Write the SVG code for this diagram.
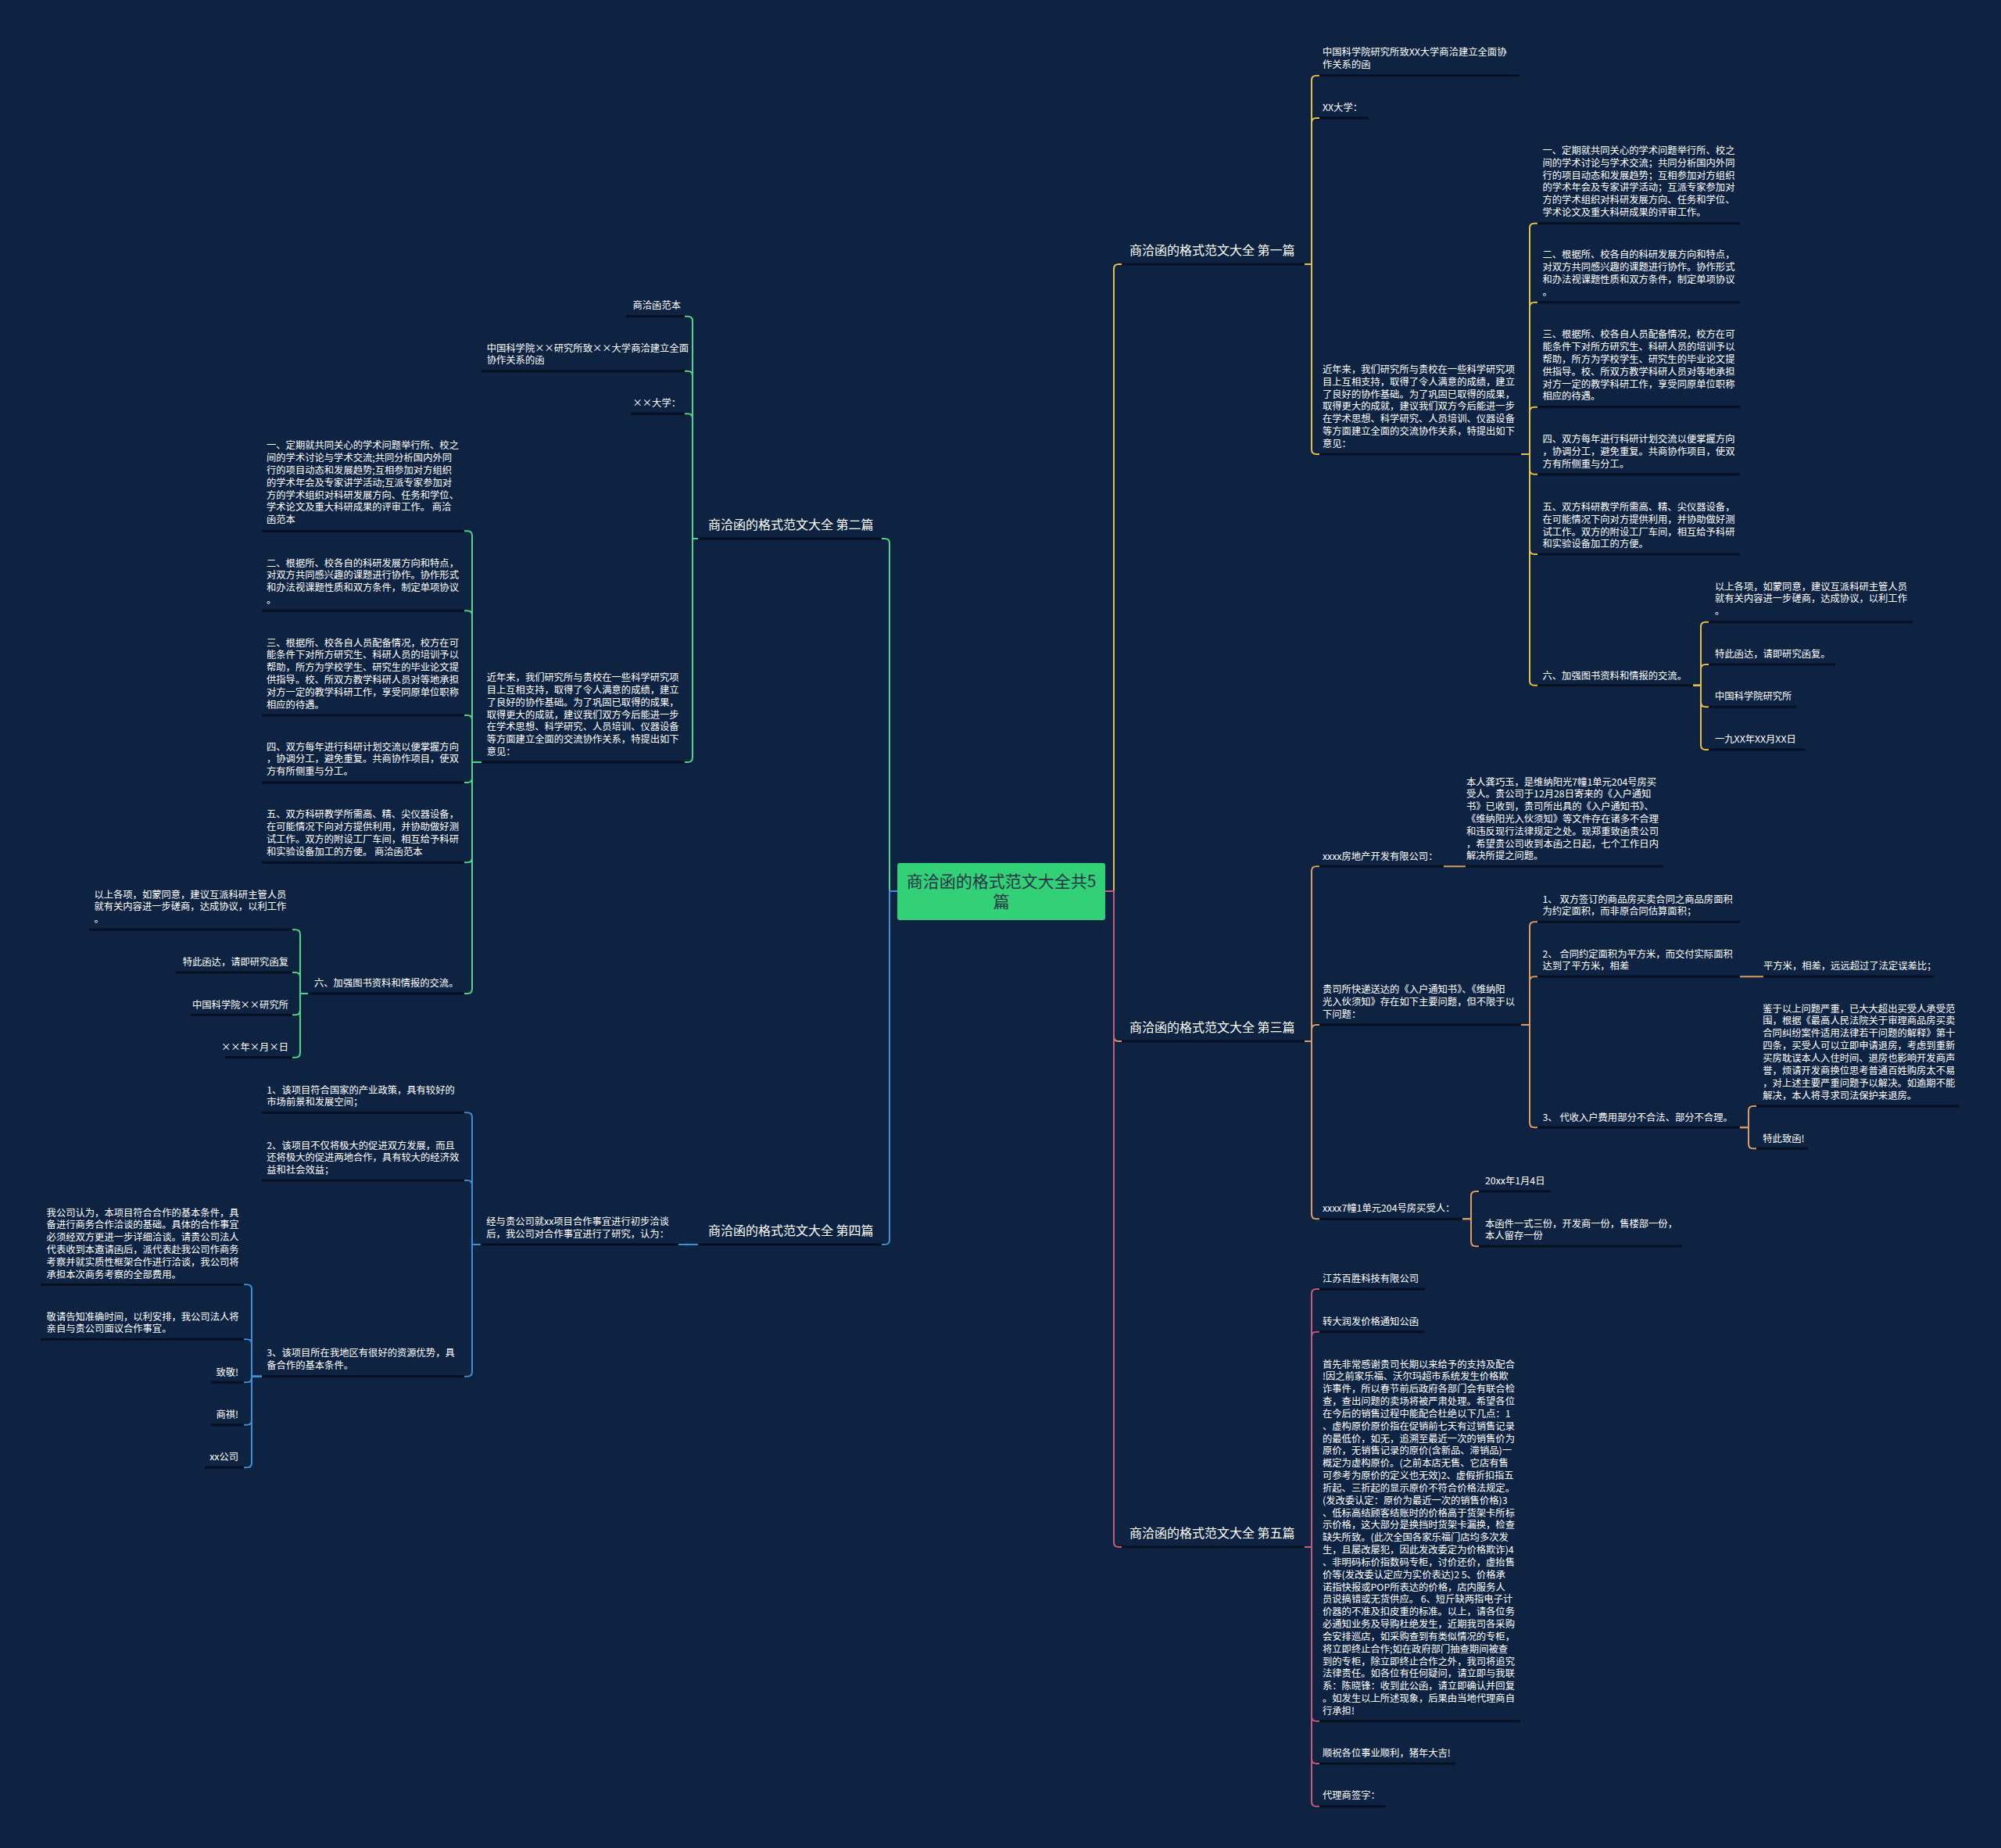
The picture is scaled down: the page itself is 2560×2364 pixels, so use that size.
<svg xmlns="http://www.w3.org/2000/svg" width="2560" height="2364" viewBox="0 0 2560 2364">
<style>
text{font-family:"Noto Sans CJK SC","Noto Sans",sans-serif;fill:#ffffff}
.t{font-size:12.3px}
.e{text-anchor:end}
.lb{font-size:16px}
.ct{font-size:21px;fill:#243447;text-anchor:middle}
.u{stroke:#061020;stroke-width:3;fill:none}
.c{fill:none;stroke-width:2}
.y{stroke:#e4c04a}.g{stroke:#4fd48e}.o{stroke:#dd9b66}.b{stroke:#3d8fd8}.p{stroke:#c85a7c}
</style>
<rect width="2560" height="2364" fill="#0d2341"/>
<g id="nodes">
<g id="center"><rect x="1148" y="1104" width="266" height="73" rx="3" fill="#32d077"/><text class="ct" x="1281" y="1134.5">商洽函的格式范文大全共5</text><text class="ct" x="1281" y="1161">篇</text></g>
<g id="L1"><text class="lb" x="1445" y="325.6">商洽函的格式范文大全 第一篇</text><line class="u" x1="1427" y1="338" x2="1669" y2="338"/></g>
<g id="L3"><text class="lb" x="1445" y="1319.6">商洽函的格式范文大全 第三篇</text><line class="u" x1="1427" y1="1332" x2="1669" y2="1332"/></g>
<g id="L5"><text class="lb" x="1445" y="1966.6">商洽函的格式范文大全 第五篇</text><line class="u" x1="1427" y1="1979" x2="1669" y2="1979"/></g>
<g id="L2"><text class="lb" x="906" y="676.6">商洽函的格式范文大全 第二篇</text><line class="u" x1="893" y1="689" x2="1136" y2="689"/></g>
<g id="L4"><text class="lb" x="906" y="1579.6">商洽函的格式范文大全 第四篇</text><line class="u" x1="893" y1="1592" x2="1136" y2="1592"/></g>

<g id="N1a"><text class="t" x="1692" y="71.3">中国科学院研究所致XX大学商洽建立全面协</text><text class="t" x="1692" y="87.1">作关系的函</text><line class="u" x1="1680" y1="96.7" x2="1944" y2="96.7"/></g>
<g id="N1b"><text class="t" x="1692" y="141.9">XX大学：</text><line class="u" x1="1680" y1="151" x2="1751" y2="151"/></g>
<g id="N1c"><text class="t" x="1692" y="476.9">近年来，我们研究所与贵校在一些科学研究项</text><text class="t" x="1692" y="492.7">目上互相支持，取得了令人满意的成绩，建立</text><text class="t" x="1692" y="508.5">了良好的协作基础。为了巩固已取得的成果，</text><text class="t" x="1692" y="524.3">取得更大的成就，建议我们双方今后能进一步</text><text class="t" x="1692" y="540.1">在学术思想、科学研究、人员培训、仪器设备</text><text class="t" x="1692" y="555.9">等方面建立全面的交流协作关系，特提出如下</text><text class="t" x="1692" y="571.7">意见：</text><line class="u" x1="1680" y1="581" x2="1946" y2="581"/></g>
<g id="N1d"><text class="t" x="1973.5" y="196.9">一、定期就共同关心的学术问题举行所、校之</text><text class="t" x="1973.5" y="212.7">间的学术讨论与学术交流；共同分析国内外同</text><text class="t" x="1973.5" y="228.5">行的项目动态和发展趋势；互相参加对方组织</text><text class="t" x="1973.5" y="244.3">的学术年会及专家讲学活动；互派专家参加对</text><text class="t" x="1973.5" y="260.1">方的学术组织对科研发展方向、任务和学位、</text><text class="t" x="1973.5" y="275.9">学术论文及重大科研成果的评审工作。</text><line class="u" x1="1959" y1="285.7" x2="2226" y2="285.7"/></g>
<g id="N1e"><text class="t" x="1973.5" y="330.3">二、根据所、校各自的科研发展方向和特点，</text><text class="t" x="1973.5" y="346.1">对双方共同感兴趣的课题进行协作。协作形式</text><text class="t" x="1973.5" y="361.9">和办法视课题性质和双方条件，制定单项协议</text><text class="t" x="1973.5" y="377.7">。</text><line class="u" x1="1959" y1="386.7" x2="2226" y2="386.7"/></g>
<g id="N1f"><text class="t" x="1973.5" y="432.3">三、根据所、校各自人员配备情况，校方在可</text><text class="t" x="1973.5" y="448.1">能条件下对所方研究生、科研人员的培训予以</text><text class="t" x="1973.5" y="463.9">帮助，所方为学校学生、研究生的毕业论文提</text><text class="t" x="1973.5" y="479.7">供指导。校、所双方教学科研人员对等地承担</text><text class="t" x="1973.5" y="495.5">对方一定的教学科研工作，享受同原单位职称</text><text class="t" x="1973.5" y="511.3">相应的待遇。</text><line class="u" x1="1959" y1="520.7" x2="2226" y2="520.7"/></g>
<g id="N1g"><text class="t" x="1973.5" y="566.3">四、双方每年进行科研计划交流以便掌握方向</text><text class="t" x="1973.5" y="582.1">，协调分工，避免重复。共商协作项目，使双</text><text class="t" x="1973.5" y="597.9">方有所侧重与分工。</text><line class="u" x1="1959" y1="606.7" x2="2226" y2="606.7"/></g>
<g id="N1h"><text class="t" x="1973.5" y="652.9">五、双方科研教学所需高、精、尖仪器设备，</text><text class="t" x="1973.5" y="668.7">在可能情况下向对方提供利用，并协助做好测</text><text class="t" x="1973.5" y="684.5">试工作。双方的附设工厂车间，相互给予科研</text><text class="t" x="1973.5" y="700.3">和实验设备加工的方便。</text><line class="u" x1="1959" y1="709" x2="2226" y2="709"/></g>
<g id="N1i"><text class="t" x="1973.5" y="868.6">六、加强图书资料和情报的交流。</text><line class="u" x1="1959" y1="876.7" x2="2166" y2="876.7"/></g>
<g id="N1j"><text class="t" x="2194" y="754.6">以上各项，如蒙同意，建议互派科研主管人员</text><text class="t" x="2194" y="770.4">就有关内容进一步磋商，达成协议，以利工作</text><text class="t" x="2194" y="786.2">。</text><line class="u" x1="2178" y1="795.7" x2="2447" y2="795.7"/></g>
<g id="N1k"><text class="t" x="2194" y="841.3">特此函达，请即研究函复。</text><line class="u" x1="2178" y1="850" x2="2348" y2="850"/></g>
<g id="N1l"><text class="t" x="2194" y="895.3">中国科学院研究所</text><line class="u" x1="2178" y1="904.3" x2="2298" y2="904.3"/></g>
<g id="N1m"><text class="t" x="2194" y="949.6">一九XX年XX月XX日</text><line class="u" x1="2178" y1="959" x2="2310" y2="959"/></g>

<g id="N3a"><text class="t" x="1692" y="1099.6">xxxx房地产开发有限公司：</text><line class="u" x1="1680" y1="1108.3" x2="1847" y2="1108.3"/></g>
<g id="N3b"><text class="t" x="1876" y="1004.6">本人龚巧玉，是维纳阳光7幢1单元204号房买</text><text class="t" x="1876" y="1020.4">受人。贵公司于12月28日寄来的《入户通知</text><text class="t" x="1876" y="1036.2">书》已收到，贵司所出具的《入户通知书》、</text><text class="t" x="1876" y="1052">《维纳阳光入伙须知》等文件存在诸多不合理</text><text class="t" x="1876" y="1067.8">和违反现行法律规定之处。现郑重致函贵公司</text><text class="t" x="1876" y="1083.6">，希望贵公司收到本函之日起，七个工作日内</text><text class="t" x="1876" y="1099.4">解决所提之问题。</text><line class="u" x1="1869" y1="1108.3" x2="2128" y2="1108.3"/></g>
<g id="N3c"><text class="t" x="1692" y="1270.3">贵司所快递送达的《入户通知书》、《维纳阳</text><text class="t" x="1692" y="1286.1">光入伙须知》存在如下主要问题，但不限于以</text><text class="t" x="1692" y="1301.9">下问题：</text><line class="u" x1="1680" y1="1311" x2="1946" y2="1311"/></g>
<g id="N3d"><text class="t" x="1973.5" y="1154.6">1、 双方签订的商品房买卖合同之商品房面积</text><text class="t" x="1973.5" y="1170.4">为约定面积，而非原合同估算面积；</text><line class="u" x1="1959" y1="1179.3" x2="2226" y2="1179.3"/></g>
<g id="N3e"><text class="t" x="1973.5" y="1224.6">2、 合同约定面积为平方米，而交付实际面积</text><text class="t" x="1973.5" y="1240.4">达到了平方米，相差</text><line class="u" x1="1959" y1="1249.3" x2="2226" y2="1249.3"/></g>
<g id="N3f"><text class="t" x="2256" y="1239.6">平方米，相差，远远超过了法定误差比；</text><line class="u" x1="2250" y1="1249.3" x2="2474" y2="1249.3"/></g>
<g id="N3g"><text class="t" x="1973.5" y="1433.6">3、 代收入户费用部分不合法、部分不合理。</text><line class="u" x1="1959" y1="1442.3" x2="2226" y2="1442.3"/></g>
<g id="N3h"><text class="t" x="2255.3" y="1294.6">鉴于以上问题严重，已大大超出买受人承受范</text><text class="t" x="2255.3" y="1310.45">围，根据《最高人民法院关于审理商品房买卖</text><text class="t" x="2255.3" y="1326.3">合同纠纷案件适用法律若干问题的解释》第十</text><text class="t" x="2255.3" y="1342.15">四条，买受人可以立即申请退房，考虑到重新</text><text class="t" x="2255.3" y="1358">买房耽误本人入住时间、退房也影响开发商声</text><text class="t" x="2255.3" y="1373.85">誉，烦请开发商换位思考普通百姓购房太不易</text><text class="t" x="2255.3" y="1389.7">，对上述主要严重问题予以解决。如逾期不能</text><text class="t" x="2255.3" y="1405.55">解决，本人将寻求司法保护来退房。</text><line class="u" x1="2239" y1="1415" x2="2507" y2="1415"/></g>
<g id="N3i"><text class="t" x="2255.3" y="1460.6">特此致函!</text><line class="u" x1="2239" y1="1469.3" x2="2313" y2="1469.3"/></g>
<g id="N3j"><text class="t" x="1692" y="1550.3">xxxx7幢1单元204号房买受人：</text><line class="u" x1="1680" y1="1559.3" x2="1871" y2="1559.3"/></g>
<g id="N3k"><text class="t" x="1900" y="1514.6">20xx年1月4日</text><line class="u" x1="1884" y1="1524" x2="1984" y2="1524"/></g>
<g id="N3l"><text class="t" x="1900" y="1569.6">本函件一式三份，开发商一份，售楼部一份，</text><text class="t" x="1900" y="1585.4">本人留存一份</text><line class="u" x1="1884" y1="1594.3" x2="2152" y2="1594.3"/></g>

<g id="N5a"><text class="t" x="1692" y="1639.6">江苏百胜科技有限公司</text><line class="u" x1="1680" y1="1649" x2="1823" y2="1649"/></g>
<g id="N5b"><text class="t" x="1692" y="1694.6">转大润发价格通知公函</text><line class="u" x1="1680" y1="1703.7" x2="1823" y2="1703.7"/></g>
<g id="N5c"><text class="t" x="1692" y="1749.6">首先非常感谢贵司长期以来给予的支持及配合</text><text class="t" x="1692" y="1765.43">!因之前家乐福、沃尔玛超市系统发生价格欺</text><text class="t" x="1692" y="1781.26">诈事件，所以春节前后政府各部门会有联合检</text><text class="t" x="1692" y="1797.09">查，查出问题的卖场将被严肃处理。希望各位</text><text class="t" x="1692" y="1812.92">在今后的销售过程中能配合杜绝以下几点：1</text><text class="t" x="1692" y="1828.75">、虚构原价原价指在促销前七天有过销售记录</text><text class="t" x="1692" y="1844.58">的最低价，如无，追溯至最近一次的销售价为</text><text class="t" x="1692" y="1860.41">原价，无销售记录的原价(含新品、滞销品)一</text><text class="t" x="1692" y="1876.24">概定为虚构原价。(之前本店无售、它店有售</text><text class="t" x="1692" y="1892.07">可参考为原价的定义也无效)2、虚假折扣指五</text><text class="t" x="1692" y="1907.9">折起、三折起的显示原价不符合价格法规定。</text><text class="t" x="1692" y="1923.73">(发改委认定：原价为最近一次的销售价格)3</text><text class="t" x="1692" y="1939.56">、低标高结顾客结账时的价格高于货架卡所标</text><text class="t" x="1692" y="1955.39">示价格，这大部分是换挡时货架卡漏换，检查</text><text class="t" x="1692" y="1971.22">缺失所致。(此次全国各家乐福门店均多次发</text><text class="t" x="1692" y="1987.05">生，且屡改屡犯，因此发改委定为价格欺诈)4</text><text class="t" x="1692" y="2002.88">、非明码标价指数码专柜，讨价还价，虚抬售</text><text class="t" x="1692" y="2018.71">价等(发改委认定应为实价表达)2 5、价格承</text><text class="t" x="1692" y="2034.54">诺指快报或POP所表达的价格，店内服务人</text><text class="t" x="1692" y="2050.37">员说搞错或无货供应。 6、短斤缺两指电子计</text><text class="t" x="1692" y="2066.2">价器的不准及扣皮重的标准。以上，请各位务</text><text class="t" x="1692" y="2082.03">必通知业务及导购杜绝发生，近期我司各采购</text><text class="t" x="1692" y="2097.86">会安排巡店，如采购查到有类似情况的专柜，</text><text class="t" x="1692" y="2113.69">将立即终止合作;如在政府部门抽查期间被查</text><text class="t" x="1692" y="2129.52">到的专柜，除立即终止合作之外，我司将追究</text><text class="t" x="1692" y="2145.35">法律责任。如各位有任何疑问，请立即与我联</text><text class="t" x="1692" y="2161.18">系：陈晓锋：收到此公函，请立即确认并回复</text><text class="t" x="1692" y="2177.01">。如发生以上所述现象，后果由当地代理商自</text><text class="t" x="1692" y="2192.84">行承担!</text><line class="u" x1="1680" y1="2201.7" x2="1945" y2="2201.7"/></g>
<g id="N5d"><text class="t" x="1692" y="2247.3">顺祝各位事业顺利，猪年大吉!</text><line class="u" x1="1680" y1="2256" x2="1863" y2="2256"/></g>
<g id="N5e"><text class="t" x="1692" y="2301.3">代理商签字：</text><line class="u" x1="1680" y1="2310.7" x2="1773" y2="2310.7"/></g>

<g id="N2a"><text class="t e" x="871" y="395.2">商洽函范本</text><line class="u" x1="801" y1="404.8" x2="884" y2="404.8"/></g>
<g id="N2b"><text class="t" x="622.7" y="449.6">中国科学院××研究所致××大学商洽建立全面</text><text class="t" x="622.7" y="465.4">协作关系的函</text><line class="u" x1="616" y1="474.8" x2="884" y2="474.8"/></g>
<g id="N2c"><text class="t e" x="871" y="520.1">××大学：</text><line class="u" x1="807" y1="529.3" x2="884" y2="529.3"/></g>
<g id="N2d"><text class="t" x="622.7" y="870.8">近年来，我们研究所与贵校在一些科学研究项</text><text class="t" x="622.7" y="886.7">目上互相支持，取得了令人满意的成绩，建立</text><text class="t" x="622.7" y="902.6">了良好的协作基础。为了巩固已取得的成果，</text><text class="t" x="622.7" y="918.5">取得更大的成就，建议我们双方今后能进一步</text><text class="t" x="622.7" y="934.4">在学术思想、科学研究、人员培训、仪器设备</text><text class="t" x="622.7" y="950.3">等方面建立全面的交流协作关系，特提出如下</text><text class="t" x="622.7" y="966.2">意见：</text><line class="u" x1="616" y1="975" x2="884" y2="975"/></g>
<g id="N2e"><text class="t" x="341" y="574.3">一、定期就共同关心的学术问题举行所、校之</text><text class="t" x="341" y="590.1">间的学术讨论与学术交流;共同分析国内外同</text><text class="t" x="341" y="605.9">行的项目动态和发展趋势;互相参加对方组织</text><text class="t" x="341" y="621.8">的学术年会及专家讲学活动;互派专家参加对</text><text class="t" x="341" y="637.6">方的学术组织对科研发展方向、任务和学位、</text><text class="t" x="341" y="653.4">学术论文及重大科研成果的评审工作。 商洽</text><text class="t" x="341" y="669.2">函范本</text><line class="u" x1="335" y1="679.2" x2="602" y2="679.2"/></g>
<g id="N2f"><text class="t" x="341" y="724.6">二、根据所、校各自的科研发展方向和特点，</text><text class="t" x="341" y="740.4">对双方共同感兴趣的课题进行协作。协作形式</text><text class="t" x="341" y="756.2">和办法视课题性质和双方条件，制定单项协议</text><text class="t" x="341" y="772">。</text><line class="u" x1="335" y1="781.2" x2="602" y2="781.2"/></g>
<g id="N2g"><text class="t" x="341" y="826.6">三、根据所、校各自人员配备情况，校方在可</text><text class="t" x="341" y="842.4">能条件下对所方研究生、科研人员的培训予以</text><text class="t" x="341" y="858.2">帮助，所方为学校学生、研究生的毕业论文提</text><text class="t" x="341" y="874">供指导。校、所双方教学科研人员对等地承担</text><text class="t" x="341" y="889.8">对方一定的教学科研工作，享受同原单位职称</text><text class="t" x="341" y="905.6">相应的待遇。</text><line class="u" x1="335" y1="915" x2="602" y2="915"/></g>
<g id="N2h"><text class="t" x="341" y="959.6">四、双方每年进行科研计划交流以便掌握方向</text><text class="t" x="341" y="975.4">，协调分工，避免重复。共商协作项目，使双</text><text class="t" x="341" y="991.2">方有所侧重与分工。</text><line class="u" x1="335" y1="1001" x2="602" y2="1001"/></g>
<g id="N2i"><text class="t" x="341" y="1046.3">五、双方科研教学所需高、精、尖仪器设备，</text><text class="t" x="341" y="1062.2">在可能情况下向对方提供利用，并协助做好测</text><text class="t" x="341" y="1078.1">试工作。双方的附设工厂车间，相互给予科研</text><text class="t" x="341" y="1094">和实验设备加工的方便。 商洽函范本</text><line class="u" x1="335" y1="1103.3" x2="602" y2="1103.3"/></g>
<g id="N2j"><text class="t" x="402" y="1261.9">六、加强图书资料和情报的交流。</text><line class="u" x1="394" y1="1271" x2="602" y2="1271"/></g>
<g id="N2k"><text class="t" x="120.4" y="1148.6">以上各项，如蒙同意，建议互派科研主管人员</text><text class="t" x="120.4" y="1164.4">就有关内容进一步磋商，达成协议，以利工作</text><text class="t" x="120.4" y="1180.2">。</text><line class="u" x1="114" y1="1189.3" x2="382" y2="1189.3"/></g>
<g id="N2l"><text class="t e" x="369" y="1234.6">特此函达，请即研究函复</text><line class="u" x1="225" y1="1244" x2="382" y2="1244"/></g>
<g id="N2m"><text class="t e" x="369" y="1289.6">中国科学院××研究所</text><line class="u" x1="244" y1="1298.3" x2="382" y2="1298.3"/></g>
<g id="N2n"><text class="t e" x="369" y="1343.9">××年×月×日</text><line class="u" x1="288" y1="1352.7" x2="382" y2="1352.7"/></g>

<g id="N4a"><text class="t" x="622.3" y="1567.3">经与贵公司就xx项目合作事宜进行初步洽谈</text><text class="t" x="622.3" y="1583.1">后，我公司对合作事宜进行了研究，认为：</text><line class="u" x1="615" y1="1592" x2="876" y2="1592"/></g>
<g id="N4b"><text class="t" x="341.3" y="1398.6">1、该项目符合国家的产业政策，具有较好的</text><text class="t" x="341.3" y="1414.4">市场前景和发展空间；</text><line class="u" x1="335" y1="1423.3" x2="602" y2="1423.3"/></g>
<g id="N4c"><text class="t" x="341.3" y="1469.6">2、该项目不仅将极大的促进双方发展，而且</text><text class="t" x="341.3" y="1485.4">还将极大的促进两地合作，具有较大的经济效</text><text class="t" x="341.3" y="1501.2">益和社会效益；</text><line class="u" x1="335" y1="1510" x2="602" y2="1510"/></g>
<g id="N4d"><text class="t" x="341.3" y="1735.3">3、该项目所在我地区有很好的资源优势，具</text><text class="t" x="341.3" y="1751.1">备合作的基本条件。</text><line class="u" x1="335" y1="1760.7" x2="602" y2="1760.7"/></g>
<g id="N4e"><text class="t" x="59.6" y="1555.6">我公司认为，本项目符合合作的基本条件，具</text><text class="t" x="59.6" y="1571.4">备进行商务合作洽谈的基础。具体的合作事宜</text><text class="t" x="59.6" y="1587.2">必须经双方更进一步详细洽谈。请贵公司法人</text><text class="t" x="59.6" y="1603">代表收到本邀请函后，派代表赴我公司作商务</text><text class="t" x="59.6" y="1618.8">考察并就实质性框架合作进行洽谈，我公司将</text><text class="t" x="59.6" y="1634.6">承担本次商务考察的全部费用。</text><line class="u" x1="52" y1="1643.3" x2="320" y2="1643.3"/></g>
<g id="N4f"><text class="t" x="59.6" y="1688.6">敬请告知准确时间，以利安排，我公司法人将</text><text class="t" x="59.6" y="1704.4">亲自与贵公司面议合作事宜。</text><line class="u" x1="52" y1="1713.3" x2="320" y2="1713.3"/></g>
<g id="N4g"><text class="t e" x="305" y="1759.6">致敬!</text><line class="u" x1="270" y1="1768.3" x2="320" y2="1768.3"/></g>
<g id="N4h"><text class="t e" x="305" y="1813.9">商祺!</text><line class="u" x1="270" y1="1822.7" x2="320" y2="1822.7"/></g>
<g id="N4i"><text class="t e" x="305" y="1867.9">xx公司</text><line class="u" x1="262" y1="1877.3" x2="320" y2="1877.3"/></g>
</g>

<g id="connectors">
<path class="c y" d="M1414 1140 H1425 V344 Q1425 338 1431 338 H1435"/>
<path class="c o" d="M1414 1140 H1425 V1326 Q1425 1332 1431 1332 H1435"/>
<path class="c p" d="M1414 1140 H1425 V1973 Q1425 1979 1431 1979 H1435"/>
<path class="c g" d="M1148 1140 H1138 V695 Q1138 689 1132 689 H1128"/>
<path class="c b" d="M1148 1140 H1138 V1586 Q1138 1592 1132 1592 H1128"/>

<path class="c y" d="M1669 338 H1678 V102.7 Q1678 96.7 1684 96.7 H1688"/>
<path class="c y" d="M1669 338 H1678 V157 Q1678 151 1684 151 H1688"/>
<path class="c y" d="M1669 338 H1678 V575 Q1678 581 1684 581 H1688"/>
<path class="c y" d="M1946 581 H1957 V291.7 Q1957 285.7 1963 285.7 H1967"/>
<path class="c y" d="M1946 581 H1957 V392.7 Q1957 386.7 1963 386.7 H1967"/>
<path class="c y" d="M1946 581 H1957 V526.7 Q1957 520.7 1963 520.7 H1967"/>
<path class="c y" d="M1946 581 H1957 V600.7 Q1957 606.7 1963 606.7 H1967"/>
<path class="c y" d="M1946 581 H1957 V703 Q1957 709 1963 709 H1967"/>
<path class="c y" d="M1946 581 H1957 V870.7 Q1957 876.7 1963 876.7 H1967"/>
<path class="c y" d="M2166 876.7 H2176 V801.7 Q2176 795.7 2182 795.7 H2186"/>
<path class="c y" d="M2166 876.7 H2176 V856 Q2176 850 2182 850 H2186"/>
<path class="c y" d="M2166 876.7 H2176 V898.3 Q2176 904.3 2182 904.3 H2186"/>
<path class="c y" d="M2166 876.7 H2176 V953 Q2176 959 2182 959 H2186"/>

<path class="c o" d="M1669 1332 H1678 V1114.3 Q1678 1108.3 1684 1108.3 H1688"/>
<path class="c o" d="M1669 1332 H1678 V1317 Q1678 1311 1684 1311 H1688"/>
<path class="c o" d="M1669 1332 H1678 V1553.3 Q1678 1559.3 1684 1559.3 H1688"/>
<path class="c o" d="M1847 1108.3 H1875"/>
<path class="c o" d="M1946 1311 H1957 V1185.3 Q1957 1179.3 1963 1179.3 H1967"/>
<path class="c o" d="M1946 1311 H1957 V1255.3 Q1957 1249.3 1963 1249.3 H1967"/>
<path class="c o" d="M1946 1311 H1957 V1436.3 Q1957 1442.3 1963 1442.3 H1967"/>
<path class="c o" d="M2226 1249.3 H2256"/>
<path class="c o" d="M2226 1442.3 H2237 V1421 Q2237 1415 2243 1415 H2247"/>
<path class="c o" d="M2226 1442.3 H2237 V1463.3 Q2237 1469.3 2243 1469.3 H2247"/>
<path class="c o" d="M1871 1559.3 H1882 V1530 Q1882 1524 1888 1524 H1892"/>
<path class="c o" d="M1871 1559.3 H1882 V1588.3 Q1882 1594.3 1888 1594.3 H1892"/>

<path class="c p" d="M1669 1979 H1678 V1655 Q1678 1649 1684 1649 H1688"/>
<path class="c p" d="M1669 1979 H1678 V1709.7 Q1678 1703.7 1684 1703.7 H1688"/>
<path class="c p" d="M1669 1979 H1678 V2195.7 Q1678 2201.7 1684 2201.7 H1688"/>
<path class="c p" d="M1669 1979 H1678 V2250 Q1678 2256 1684 2256 H1688"/>
<path class="c p" d="M1669 1979 H1678 V2304.7 Q1678 2310.7 1684 2310.7 H1688"/>

<path class="c g" d="M893 689 H886 V410.8 Q886 404.8 880 404.8 H876"/>
<path class="c g" d="M893 689 H886 V480.8 Q886 474.8 880 474.8 H876"/>
<path class="c g" d="M893 689 H886 V535.3 Q886 529.3 880 529.3 H876"/>
<path class="c g" d="M893 689 H886 V969 Q886 975 880 975 H876"/>
<path class="c g" d="M616 975 H604 V685.2 Q604 679.2 598 679.2 H594"/>
<path class="c g" d="M616 975 H604 V787.2 Q604 781.2 598 781.2 H594"/>
<path class="c g" d="M616 975 H604 V921 Q604 915 598 915 H594"/>
<path class="c g" d="M616 975 H604 V995 Q604 1001 598 1001 H594"/>
<path class="c g" d="M616 975 H604 V1097.3 Q604 1103.3 598 1103.3 H594"/>
<path class="c g" d="M616 975 H604 V1265 Q604 1271 598 1271 H594"/>
<path class="c g" d="M394 1271 H384 V1195.3 Q384 1189.3 378 1189.3 H374"/>
<path class="c g" d="M394 1271 H384 V1250 Q384 1244 378 1244 H374"/>
<path class="c g" d="M394 1271 H384 V1292.3 Q384 1298.3 378 1298.3 H374"/>
<path class="c g" d="M394 1271 H384 V1346.7 Q384 1352.7 378 1352.7 H374"/>

<path class="c b" d="M893 1592 H868"/>
<path class="c b" d="M615 1592 H604 V1429.3 Q604 1423.3 598 1423.3 H594"/>
<path class="c b" d="M615 1592 H604 V1516 Q604 1510 598 1510 H594"/>
<path class="c b" d="M615 1592 H604 V1754.7 Q604 1760.7 598 1760.7 H594"/>
<path class="c b" d="M335 1760.7 H322 V1649.3 Q322 1643.3 316 1643.3 H312"/>
<path class="c b" d="M335 1760.7 H322 V1719.3 Q322 1713.3 316 1713.3 H312"/>
<path class="c b" d="M335 1760.7 H322 V1762.3 Q322 1768.3 316 1768.3 H312"/>
<path class="c b" d="M335 1760.7 H322 V1816.7 Q322 1822.7 316 1822.7 H312"/>
<path class="c b" d="M335 1760.7 H322 V1871.3 Q322 1877.3 316 1877.3 H312"/>
</g>
</svg>
